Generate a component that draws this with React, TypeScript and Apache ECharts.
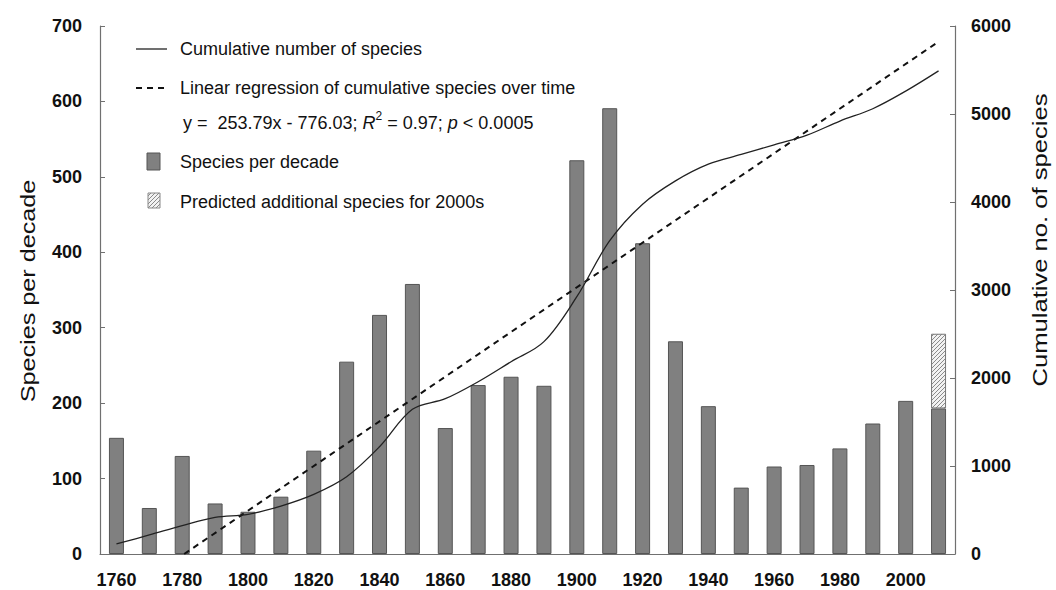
import React, { useEffect, useRef } from "react";
import * as echarts from "echarts";

const decades = ["1760","1770","1780","1790","1800","1810","1820","1830","1840","1850","1860","1870","1880","1890","1900","1910","1920","1930","1940","1950","1960","1970","1980","1990","2000","2010"];
const decadeYears = [1760,1770,1780,1790,1800,1810,1820,1830,1840,1850,1860,1870,1880,1890,1900,1910,1920,1930,1940,1950,1960,1970,1980,1990,2000,2010];
const speciesPerDecade = [154, 61, 130, 67, 56, 76, 137, 255, 317, 358, 167, 224, 235, 223, 522, 591, 412, 282, 196, 88, 116, 118, 140, 173, 203, 193];
const predictedExtra = [null, null, null, null, null, null, null, null, null, null, null, null, null, null, null, null, null, null, null, null, null, null, null, null, null, 99];
const cumulative = [114, 216, 322, 417, 451, 545, 678, 878, 1219, 1644, 1765, 1958, 2185, 2413, 2924, 3560, 3975, 4240, 4430, 4540, 4650, 4760, 4920, 5060, 5260, 5490];
const regressionYears = [1780.6, 2010];
const regressionValues = [0, 5822];
const leftTicks = { min: 0, max: 700, interval: 100 };
const rightTicks = { min: 0, max: 6000, interval: 1000 };

const FONT = "'Liberation Sans', Arial, Helvetica, sans-serif";

function makeHatch(): HTMLCanvasElement {
  const c = document.createElement("canvas");
  c.width = 4;
  c.height = 4;
  const ctx = c.getContext("2d")!;
  ctx.fillStyle = "#f2f2f2";
  ctx.fillRect(0, 0, 4, 4);
  ctx.strokeStyle = "#8a8a8a";
  ctx.lineWidth = 1;
  ctx.beginPath();
  ctx.moveTo(-1, 5); ctx.lineTo(5, -1);
  ctx.moveTo(-3, 3); ctx.lineTo(3, -3);
  ctx.moveTo(1, 7); ctx.lineTo(7, 1);
  ctx.stroke();
  return c;
}

export default function App() {
  const ref = useRef<HTMLDivElement>(null);
  useEffect(() => {
    document.body.style.margin = "0";
    if (!ref.current) return;
    const chart = echarts.init(ref.current, null, { renderer: "svg" });
    const hatch = makeHatch();
    const hatchFill: any = { image: hatch, repeat: "repeat" };

    const option: any = {
      animation: false,
      backgroundColor: "#ffffff",
      textStyle: { fontFamily: FONT },
      grid: { left: 100, right: 101, top: 26, bottom: 36, containLabel: false },
      xAxis: [
        {
          type: "category",
          data: decades,
          boundaryGap: true,
          axisLine: { show: true, lineStyle: { color: "#707070", width: 1.2 } },
          axisTick: { show: false },
          axisLabel: { interval: 1, fontFamily: FONT, fontWeight: "bold", fontSize: 18, color: "#111", margin: 17 },
          splitLine: { show: false },
        },
        {
          type: "value",
          min: 1755,
          max: 2015,
          show: false,
        },
      ],
      yAxis: [
        {
          type: "value",
          position: "left",
          min: leftTicks.min,
          max: leftTicks.max,
          interval: leftTicks.interval,
          axisLine: { show: true, lineStyle: { color: "#707070", width: 1.2 } },
          axisTick: { show: true, inside: true, length: 5, lineStyle: { color: "#707070" } },
          axisLabel: { fontFamily: FONT, fontWeight: "bold", fontSize: 18, color: "#111", margin: 18, formatter: (v: number) => String(v) },
          splitLine: { show: false },
        },
        {
          type: "value",
          position: "right",
          min: rightTicks.min,
          max: rightTicks.max,
          interval: rightTicks.interval,
          axisLine: { show: true, lineStyle: { color: "#707070", width: 1.2 } },
          axisTick: { show: true, inside: true, length: 5, lineStyle: { color: "#707070" } },
          axisLabel: { fontFamily: FONT, fontWeight: "bold", fontSize: 18, color: "#111", margin: 16, formatter: (v: number) => String(v) },
          splitLine: { show: false },
        },
      ],
      series: [
        {
          name: "Species per decade",
          type: "bar",
          xAxisIndex: 0,
          yAxisIndex: 0,
          stack: "d",
          barWidth: 15,
          data: speciesPerDecade,
          itemStyle: { color: "#808080", borderColor: "#555555", borderWidth: 1 },
        },
        {
          name: "Predicted additional species for 2000s",
          type: "bar",
          xAxisIndex: 0,
          yAxisIndex: 0,
          stack: "d",
          barWidth: 15,
          data: predictedExtra,
          itemStyle: { color: hatchFill, borderColor: "#777777", borderWidth: 1 },
        },
        {
          name: "Linear regression of cumulative species over time",
          type: "line",
          xAxisIndex: 1,
          yAxisIndex: 1,
          data: regressionYears.map((y, i) => [y, regressionValues[i]]),
          showSymbol: false,
          symbol: "none",
          lineStyle: { color: "#111", width: 2, type: [6, 5] },
          z: 4,
        },
        {
          name: "Cumulative number of species",
          type: "line",
          xAxisIndex: 1,
          yAxisIndex: 1,
          data: decadeYears.map((y, i) => [y, cumulative[i]]),
          smooth: 0.35,
          showSymbol: false,
          symbol: "none",
          lineStyle: { color: "#222", width: 1.3 },
          z: 5,
        },
      ],
      graphic: [
        { type: "line", shape: { x1: 136, y1: 49, x2: 167, y2: 49 }, style: { stroke: "#222", lineWidth: 1.3 } },
        { type: "text", x: 180, y: 49, style: { text: "Cumulative number of species", font: `18px ${FONT}`, fill: "#111", verticalAlign: "middle" } },
        { type: "line", shape: { x1: 136, y1: 88, x2: 167, y2: 88 }, style: { stroke: "#111", lineWidth: 2, lineDash: [6, 5] } },
        { type: "text", x: 180, y: 88, style: { text: "Linear regression of cumulative species over time", font: `18px ${FONT}`, fill: "#111", verticalAlign: "middle" } },
        {
          type: "text",
          x: 183,
          y: 121,
          style: {
            text: "{n|y =  253.79x - 776.03; }{i|R}{s|2}{n| = 0.97; }{i|p}{n| < 0.0005}",
            verticalAlign: "middle",
            fill: "#111",
            rich: {
              n: { fontSize: 18, fontFamily: FONT, fill: "#111", verticalAlign: "bottom", lineHeight: 22 },
              i: { fontSize: 18, fontFamily: FONT, fontStyle: "italic", fill: "#111", verticalAlign: "bottom", lineHeight: 22 },
              s: { fontSize: 12, fontFamily: FONT, fill: "#111", verticalAlign: "top", lineHeight: 22 },
            },
          },
        },
        { type: "rect", shape: { x: 147, y: 153, width: 13, height: 17 }, style: { fill: "#808080", stroke: "#555", lineWidth: 1 } },
        { type: "text", x: 180, y: 162, style: { text: "Species per decade", font: `18px ${FONT}`, fill: "#111", verticalAlign: "middle" } },
        { type: "rect", shape: { x: 148, y: 193, width: 12, height: 15 }, style: { fill: hatchFill, stroke: "#888", lineWidth: 1 } },
        { type: "text", x: 180, y: 202, style: { text: "Predicted additional species for 2000s", font: `18px ${FONT}`, fill: "#111", verticalAlign: "middle" } },
        {
          type: "text", x: 28, y: 291, rotation: Math.PI / 2, scaleX: 1.2,
          style: { text: "Species per decade", font: `21px ${FONT}`, fill: "#111", align: "center", verticalAlign: "middle" },
        },
        {
          type: "text", x: 1040, y: 240, rotation: Math.PI / 2, scaleX: 1.22,
          style: { text: "Cumulative no. of species", font: `21px ${FONT}`, fill: "#111", align: "center", verticalAlign: "middle" },
        },
      ],
    };
    chart.setOption(option);
    return () => chart.dispose();
  }, []);
  return <div ref={ref} style={{ width: 1056, height: 590 }} />;
}
